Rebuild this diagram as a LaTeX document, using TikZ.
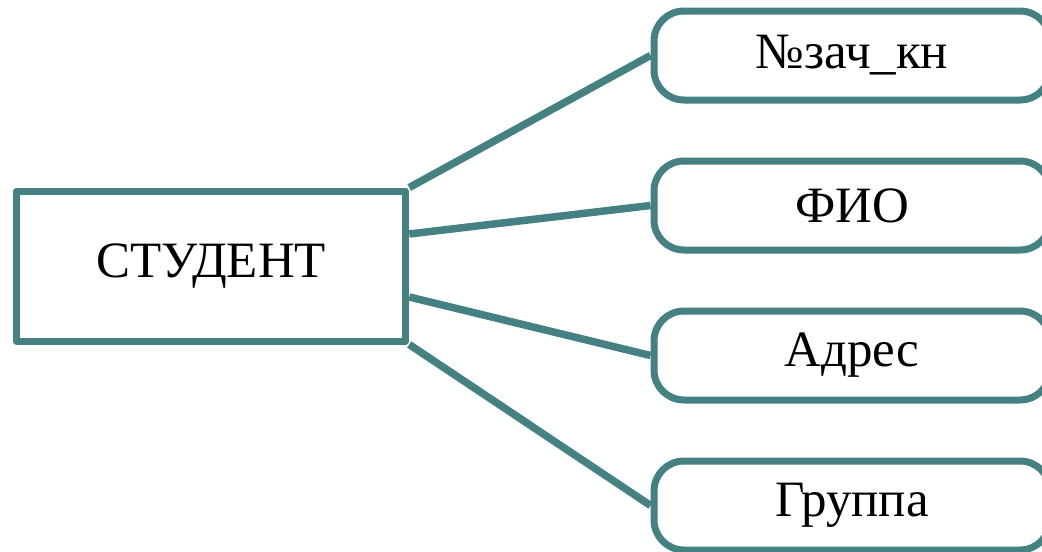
\documentclass[tikz,border=0pt]{standalone}
\usepackage{fontspec}
\setmainfont{Liberation Serif}
\definecolor{teal1}{RGB}{69,128,131}
\begin{document}
\begin{tikzpicture}[
  ent/.style={rectangle,draw=teal1,line width=0.14cm,line join=round,minimum width=7.79cm,minimum height=3cm,font=\fontsize{29}{35}\selectfont},
  attr/.style={rectangle,rounded corners=0.6cm,draw=teal1,line width=0.14cm,minimum width=7.92cm,minimum height=1.78cm,font=\fontsize{29}{35}\selectfont},
  link/.style={teal1,line width=0.15cm}]
  \useasboundingbox (0,0) rectangle (20.84,-11.02);
  \node[ent] (stud) at (4.22,-5.32) {СТУДЕНТ};
  \node[attr] (a1) at (17.04,-1.11) {№зач\_кн};
  \node[attr] (a2) at (17.04,-4.11) {ФИО};
  \node[attr] (a3) at (17.04,-7.11) {Адрес};
  \node[attr] (a4) at (17.04,-10.11) {Группа};

  \draw[link] (stud.north east) -- (a1.west);
  \draw[link] ([yshift=0.64cm]stud.east) -- (a2.west);
  \draw[link] ([yshift=-0.62cm]stud.east) -- (a3.west);
  \draw[link] (stud.south east) -- (a4.west);
\end{tikzpicture}
\end{document}
